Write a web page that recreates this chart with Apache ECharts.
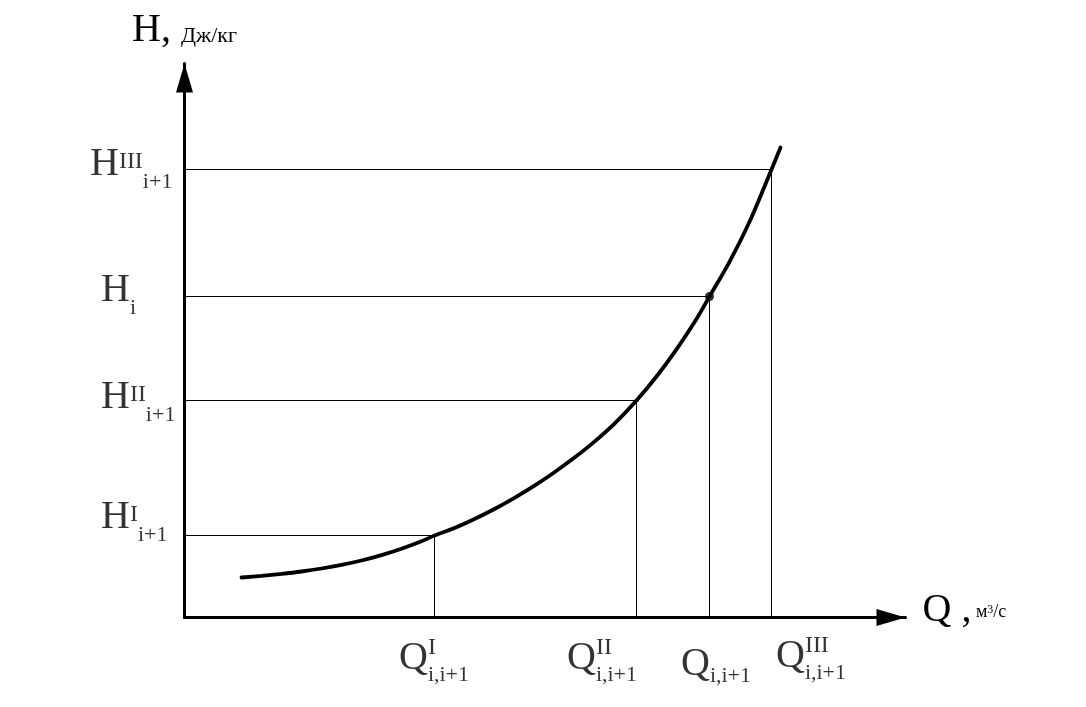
<!DOCTYPE html>
<html><head><meta charset="utf-8">
<script src="https://cdn.jsdelivr.net/npm/echarts@6/dist/echarts.min.js"></script>
<style>html,body{margin:0;padding:0;background:#fff}#c{width:1086px;height:707px}</style>
</head><body><div id="c"></div>
<script>
// Curve H(Q), arbitrary units
const curveQ = [57, 77, 97, 117, 137, 157, 177, 197, 217, 237, 250, 270, 290, 310, 330, 350, 370, 390, 410, 430, 452, 472, 492, 512, 525, 545, 565, 587, 596];
const curveH = [40, 41.6, 43.6, 46, 49, 52.6, 57, 62.4, 68.8, 76.2, 82, 89.5, 98.5, 108.5, 119.7, 131.9, 145.3, 159.9, 175.9, 193.9, 217, 241, 268.2, 298.5, 321, 355.7, 395.7, 448, 470];
// Marked operating points: I, II, i (current), III
const levelQ = [250, 452, 525, 587];
const levelH = [82, 217, 321, 448];
const pointQ = [525];
const pointH = [321];
// Tick label parts
const hMain = ['H', 'H', 'H', 'H'];
const hSup = ['I', 'II', '', 'III'];
const hSub = ['i+1', 'i+1', 'i', 'i+1'];
const qMain = ['Q', 'Q', 'Q', 'Q'];
const qSup = ['I', 'II', '', 'III'];
const qSub = ['i,i+1', 'i,i+1', 'i,i+1', 'i,i+1'];
const axisMax = [721, 554];

// layout (pixel offsets of labels relative to their tick point)
const yLabelPos = [[-83, 11], [-83, 26], [-83, 23], [-94, 24]];
const xLabelPos = [[-35, 69], [-69, 69], [-28, 70], [5, 67]];

const FF = 'Liberation Serif';
const tok = (fs, pb, extra) => Object.assign({fontSize: fs, lineHeight: fs, fontFamily: FF, color: '#000', verticalAlign: 'bottom', padding: [0, 0, pb, 0]}, extra || {});

const rich = {
  H: tok(40, 9), hsup: tok(24, 19), hsub: tok(22, 0),
  Q: tok(40, 8), Qi: tok(40, 3, {padding: [8, 0, 3, 0]}), qsup: tok(24, 26, {width: 0}), qsub: tok(22, 0)
};

function hText(i) {
  return '{H|' + hMain[i] + '}' + (hSup[i] ? '{hsup|' + hSup[i] + '}' : '') + '{hsub|' + hSub[i] + '}';
}
function qText(i) {
  if (!qSup[i]) return '{Qi|' + qMain[i] + '}{qsub|' + qSub[i] + '}';
  return '{Q|' + qMain[i] + '}{qsup|' + qSup[i] + '}{qsub|' + qSub[i] + '}';
}

const refSeries = levelQ.map((q, i) => ({
  type: 'line', silent: true, symbol: 'none', z: 1,
  lineStyle: {color: '#000', width: 1},
  data: [[0, levelH[i]], [q, levelH[i]], [q, 0]]
}));

const chart = echarts.init(document.getElementById('c'), null, {renderer: 'canvas'});
chart.setOption({
  animation: false,
  backgroundColor: '#fff',
  grid: {left: 184.5, right: 180.5, top: 63.5, bottom: 89.5, outerBoundsMode: 'none'},
  xAxis: {
    type: 'value', min: 0, max: axisMax[0],
    axisLine: {onZero: false, lineStyle: {color: '#000', width: 3}, symbol: ['none', 'triangle'], symbolSize: [17, 29], symbolOffset: [0, -14.5]},
    axisTick: {show: false}, axisLabel: {show: false}, splitLine: {show: false},
    name: '{a|Q ,}{b| м}{c|3}{b|/с}', nameLocation: 'end', nameGap: 17,
    nameTextStyle: {fontFamily: FF, color: '#000', rich: {
      a: tok(40, 7), b: tok(18, 16), c: tok(12, 22)
    }}
  },
  yAxis: {
    type: 'value', min: 0, max: axisMax[1],
    axisLine: {onZero: false, lineStyle: {color: '#000', width: 3}, symbol: ['none', 'triangle'], symbolSize: [17, 29], symbolOffset: [0, -14.5]},
    axisTick: {show: false}, axisLabel: {show: false}, splitLine: {show: false},
    name: '{a|H, }{b|Дж/кг}', nameLocation: 'end', nameGap: 13,
    nameTextStyle: {fontFamily: FF, color: '#000', rich: {
      a: tok(40, 0), b: tok(22, 3)
    }}
  },
  series: refSeries.concat([
    {
      type: 'line', silent: true, symbol: 'none', smooth: 0.3, z: 3,
      lineStyle: {color: '#000', width: 3.8, cap: 'round'},
      data: curveQ.map((q, i) => [q, curveH[i]])
    },
    {
      type: 'scatter', silent: true, symbolSize: 9, z: 4,
      itemStyle: {color: '#000'},
      data: pointQ.map((q, i) => [q, pointH[i]])
    },
    {
      type: 'scatter', silent: true, symbolSize: 1, z: 5,
      itemStyle: {color: 'rgba(0,0,0,0)'},
      label: {show: true, align: 'left', verticalAlign: 'bottom', color: '#000', fontFamily: FF, rich: rich,
        formatter: p => hText(p.dataIndex)},
      data: levelH.map((h, i) => ({value: [0, h], label: {position: yLabelPos[i]}}))
    },
    {
      type: 'scatter', silent: true, symbolSize: 1, z: 5,
      itemStyle: {color: 'rgba(0,0,0,0)'},
      label: {show: true, align: 'left', verticalAlign: 'bottom', color: '#000', fontFamily: FF, rich: rich,
        formatter: p => qText(p.dataIndex)},
      data: levelQ.map((q, i) => ({value: [q, 0], label: {position: xLabelPos[i]}}))
    }
  ])
});
</script></body></html>
